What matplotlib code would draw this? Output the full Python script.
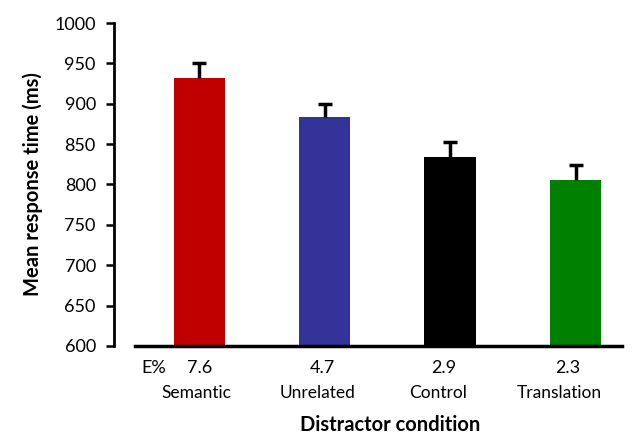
import matplotlib
matplotlib.use("Agg")
import matplotlib.pyplot as plt
from matplotlib.transforms import blended_transform_factory

# ------------------------------
# data
# ------------------------------
conditions = ["Semantic", "Unrelated", "Control", "Translation"]
mean_rt = [932, 883, 834, 806]
rt_err = [18, 17, 19, 18]
error_pct = ["7.6", "4.7", "2.9", "2.3"]
bar_colors = ["#C00000", "#333399", "#000000", "#008000"]
y_ticks = [600, 650, 700, 750, 800, 850, 900, 950, 1000]

# small horizontal shifts of the labels under the bars (as in the original)
pct_shift = [0.0, -0.02, -0.05, -0.06]
name_shift = [-0.02, -0.06, -0.10, -0.13]

plt.rcParams['font.family'] = ['Lato', 'DejaVu Sans']

fig = plt.figure(figsize=(6.4, 4.34), dpi=100)
ax = fig.add_axes([0.178, 0.203, 0.794, 0.744])

x = list(range(len(conditions)))
ax.bar(x, [v - 600 for v in mean_rt], bottom=600, width=0.41,
       color=bar_colors, zorder=2)
eb = ax.errorbar(x, mean_rt, yerr=[[0] * len(rt_err), rt_err], fmt='none',
                 ecolor='black', elinewidth=2.5, capsize=5, capthick=2.5, zorder=3)
# only the upper cap
eb[1][0].set_visible(False)

ax.set_xlim(-0.68, 3.37)
ax.set_ylim(600, 1000)
ax.set_yticks(y_ticks)
ax.set_yticklabels([str(t) for t in y_ticks], fontsize=13)
ax.set_xticks([])

for side in ['top', 'right']:
    ax.spines[side].set_visible(False)
ax.spines['left'].set_linewidth(2)
ax.spines['bottom'].set_linewidth(2.5)
ax.spines['bottom'].set_bounds(-0.51, 3.37)
ax.tick_params(axis='y', direction='out', length=6, width=1.8, pad=7)

ax.set_ylabel("Mean response time (ms)", fontsize=14.5, fontweight='bold', labelpad=8)

trans = blended_transform_factory(ax.transData, ax.transAxes)
ax.text(-0.36, -0.068, "E%", transform=trans, ha='center', va='center', fontsize=13)
for i, (pct, name) in enumerate(zip(error_pct, conditions)):
    ax.text(i + pct_shift[i], -0.068, pct, transform=trans, ha='center',
            va='center', fontsize=13)
    ax.text(i + name_shift[i], -0.146, name, transform=trans, ha='center',
            va='center', fontsize=12.5)
ax.text(1.52, -0.245, "Distractor condition", transform=trans, ha='center',
        va='center', fontsize=14.5, fontweight='bold')

plt.savefig("out.png", dpi=100)
plt.close()
